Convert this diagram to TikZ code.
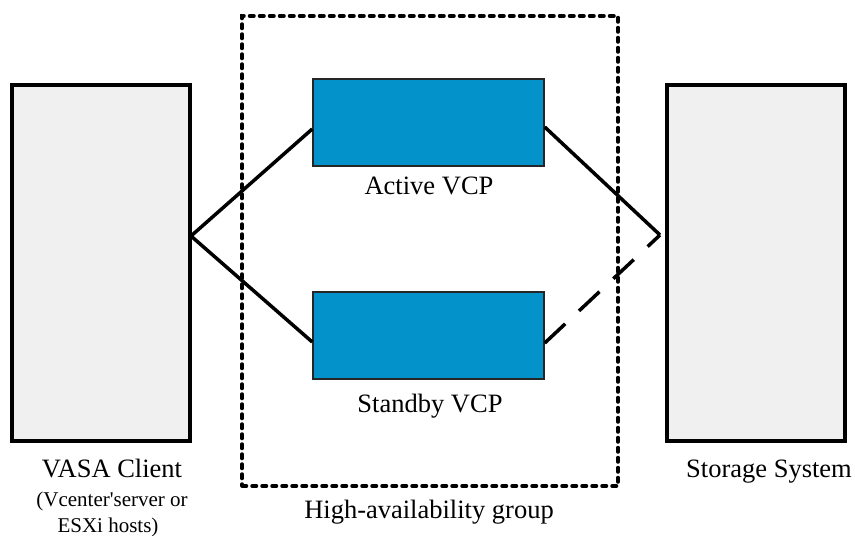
\documentclass[tikz,border=0pt]{standalone}
\usepackage{fontspec}
\setmainfont{Liberation Serif}
\usetikzlibrary{calc}
\definecolor{vcpblue}{HTML}{0392C9}
\definecolor{boxgray}{HTML}{F0F0F0}
\begin{document}
\begin{tikzpicture}[x=1pt,y=-1pt,
  hostbox/.style={draw=black,fill=boxgray,line width=4pt,minimum width=178pt,minimum height=356pt,inner sep=0pt},
  vcpbox/.style={draw=black!85,fill=vcpblue,line width=1.5pt,minimum width=231pt,minimum height=87pt,inner sep=0pt},
  groupbox/.style={draw=black,line width=3.5pt,dash pattern=on 4.5pt off 5.5pt,line cap=round,minimum width=376pt,minimum height=470pt,inner sep=0pt},
  lbl/.style={font=\fontsize{26.5}{30}\selectfont,inner sep=0pt,anchor=base},
  sublbl/.style={font=\fontsize{21}{25}\selectfont,inner sep=0pt,anchor=base},
  link/.style={line width=3.5pt},
  standbylink/.style={line width=3.5pt,dash pattern=on 28pt off 19pt}]
\useasboundingbox (0,0) rectangle (855,536);
\node[hostbox] (client) at (101,263) {};
\node[hostbox] (storage) at (756,263) {};
\node[groupbox] (group) at (430,251) {};
\node[vcpbox] (active) at (428.5,122.5) {};
\node[vcpbox] (standby) at (428.5,335.5) {};
\coordinate (cv) at (191,236);
\coordinate (sv) at (660,235);
\node[lbl] (activelbl) at (429,194) {Active VCP};
\node[lbl] (standbylbl) at (430,412) {Standby VCP};
\node[lbl] (grouplbl) at (429,518) {High-availability group};
\node[lbl] (clientlbl) at (112,477) {VASA Client};
\node[sublbl] (clientsub1) at (112,506) {(Vcenter\textquotesingle server or};
\node[sublbl] (clientsub2) at (108,532) {ESXi hosts)};
\node[lbl] (storagelbl) at (769,477) {Storage System};
\draw[link] (cv) -- ($(active.west)+(0,6.5)$);
\draw[link] (cv) -- ($(standby.west)+(0,6.5)$);
\draw[link] ($(active.east)+(0,4.5)$) -- (sv);
\draw[standbylink] ($(standby.east)+(0,7.5)$) -- (sv);
\end{tikzpicture}
\end{document}
